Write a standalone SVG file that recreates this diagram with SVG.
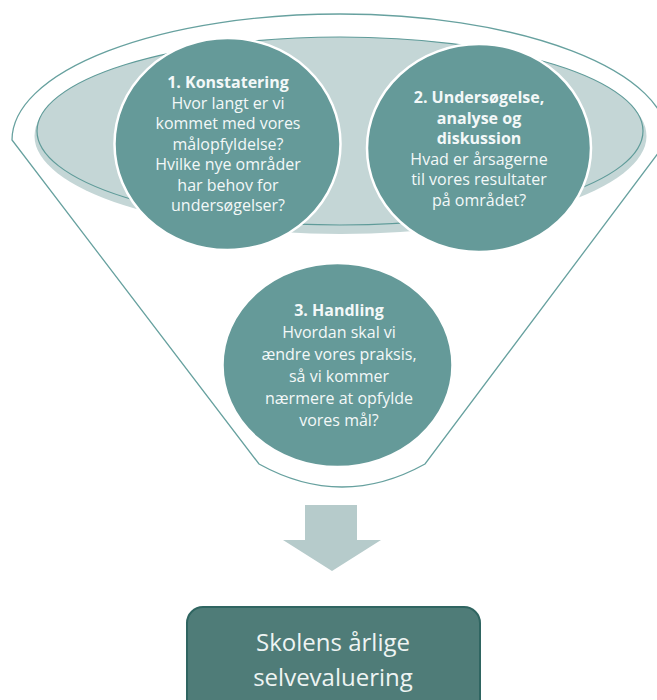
<svg xmlns="http://www.w3.org/2000/svg" width="657" height="700" viewBox="0 0 657 700">
<style>
.funnel{fill:#ffffff;stroke:#67a19f;stroke-width:1.3}
.rim{fill:#c4d6d6}
.rimline{fill:#c4d6d6;stroke:#5f9b99;stroke-width:1.2}
.circ{fill:#659a99;stroke:#ffffff;stroke-width:2.5}
.t{font-family:"Open Sans","Noto Sans","Liberation Sans",sans-serif;font-size:16px;fill:#f3f8f8;text-anchor:middle}
.b{font-weight:bold}
.arrow{fill:#b6cbcb}
.box{fill:#4f7c78;stroke:#2f6561;stroke-width:2}
.bt{font-family:"Open Sans","Noto Sans","Liberation Sans",sans-serif;font-size:24px;fill:#eef4f3;text-anchor:middle}
</style>
<g id="funnel">
<path class="funnel" d="M 12,140 A 328,126 0 0 1 668,140 L 425,464 Q 342,510 259,464 Z"/>
<ellipse class="rim" cx="340.5" cy="136" rx="306" ry="98"/>
<ellipse class="rimline" cx="340" cy="131" rx="303" ry="94"/>
</g>
<g id="step1">
<ellipse class="circ" cx="227.5" cy="144" rx="113" ry="106"/>
<text class="t"><tspan class="b" x="228" y="88">1. Konstatering</tspan><tspan x="228" y="108.5">Hvor langt er vi</tspan><tspan x="228" y="129">kommet med vores</tspan><tspan x="228" y="149.5">målopfyldelse?</tspan><tspan x="228" y="170">Hvilke nye områder</tspan><tspan x="228" y="190.5">har behov for</tspan><tspan x="228" y="211">undersøgelser?</tspan></text>
</g>
<g id="step2">
<ellipse class="circ" cx="479" cy="148" rx="112" ry="104"/>
<text class="t"><tspan class="b" x="479" y="103">2. Undersøgelse,</tspan><tspan class="b" x="479" y="123.5">analyse og</tspan><tspan class="b" x="479" y="144">diskussion</tspan><tspan x="479" y="164.5">Hvad er årsagerne</tspan><tspan x="479" y="185">til vores resultater</tspan><tspan x="479" y="205.5">på området?</tspan></text>
</g>
<g id="step3">
<ellipse class="circ" cx="337.5" cy="365" rx="115" ry="102"/>
<text class="t"><tspan class="b" x="339" y="316">3. Handling</tspan><tspan x="339" y="338">Hvordan skal vi</tspan><tspan x="339" y="360">ændre vores praksis,</tspan><tspan x="339" y="382">så vi kommer</tspan><tspan x="339" y="404">nærmere at opfylde</tspan><tspan x="339" y="426">vores mål?</tspan></text>
</g>
<g id="connectors">
<path class="arrow" d="M 305,505 H 357 V 540 H 381 L 332,571 L 283,540 H 305 Z"/>
</g>
<g id="result">
<rect class="box" x="187" y="607" width="293" height="110" rx="16" ry="16"/>
<text class="bt"><tspan x="333" y="651">Skolens årlige</tspan><tspan x="333" y="686">selvevaluering</tspan></text>
</g>
</svg>
